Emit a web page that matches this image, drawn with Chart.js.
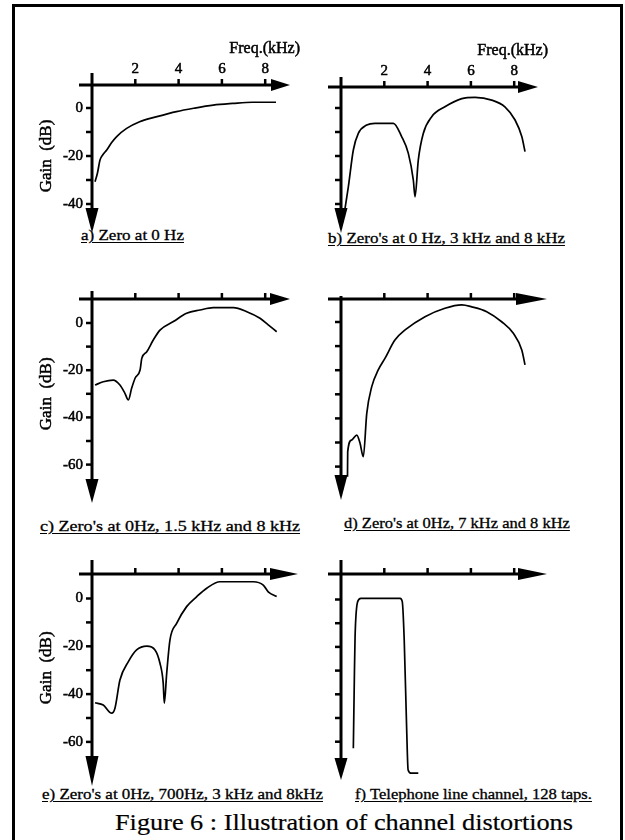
<!DOCTYPE html>
<html>
<head>
<meta charset="utf-8">
<title>Figure 6 : Illustration of channel distortions</title>
<script src="https://cdn.jsdelivr.net/npm/chart.js@4.4.1/dist/chart.umd.min.js"></script>
<style>
  html, body { margin: 0; padding: 0; background: #fff; width: 625px; height: 840px; overflow: hidden; }
  #frame { position: absolute; left: 12px; top: 4px; width: 605px; height: 900px; border: 3px solid #000; border-bottom: none; }
  canvas { position: absolute; }
  .cap {
    position: absolute; white-space: pre; color: #000;
    font-family: "Liberation Serif", "Times New Roman", serif;
    font-size: 15px; line-height: 15px;
    -webkit-text-stroke: 0.3px #000;
    text-decoration: underline; text-underline-offset: 2px;
    transform-origin: 0 0;
  }
  #title { font-size: 24px; line-height: 24px; text-decoration: none; -webkit-text-stroke: 0.2px #000; }
</style>
</head>
<body>
<div id="frame"></div>

<div class="cap" style="left:81px; top:228px" data-w="103">a) Zero at 0 Hz</div>
<div class="cap" style="left:328px; top:231px" data-w="237">b) Zero's at 0 Hz, 3 kHz and 8 kHz</div>
<div class="cap" style="left:40px; top:519px" data-w="260">c) Zero's at 0Hz, 1.5 kHz and 8 kHz</div>
<div class="cap" style="left:344px; top:516px" data-w="226">d) Zero's at 0Hz, 7 kHz and 8 kHz</div>
<div class="cap" style="left:42px; top:787px" data-w="281">e) Zero's at 0Hz, 700Hz, 3 kHz and 8kHz</div>
<div class="cap" style="left:355px; top:787px" data-w="237">f) Telephone line channel, 128 taps.</div>
<div class="cap" id="title" style="left:115px; top:810px" data-w="458">Figure 6 : Illustration of channel distortions</div>

<script>
// ------------------------------------------------------------
// data (frequency in kHz, gain in dB)
// ------------------------------------------------------------
const freqA = [0.14, 0.25, 0.37, 0.5, 0.68, 0.9, 1.14, 1.6, 2.2, 3.0, 3.9, 4.7, 5.6, 6.5, 7.4, 8.5];
const gainA = [-30.7, -27.2, -21.7, -19.5, -17.5, -14.5, -11.9, -8.5, -5.7, -3.6, -1.5, -0.1, 1.2, 1.9, 2.4, 2.4];

const freqB = [0.15, 0.34, 0.57, 0.8, 1.19, 1.57, 2.42, 2.8, 3.11, 3.34, 3.42, 3.57, 3.8, 4.19, 4.8, 5.58, 6.19, 6.96, 7.57, 8.04, 8.35, 8.5];
const gainB = [-43.9, -32.8, -17.5, -10.6, -7.1, -6.4, -6.4, -11.9, -18.9, -30, -37, -21.7, -10.6, -3.6, 0.5, 3.9, 4.4, 3.3, 0.5, -5, -11.9, -18.2];

const freqC = [0.14, 0.52, 0.98, 1.29, 1.52, 1.68, 1.83, 1.99, 2.22, 2.3, 2.53, 2.83, 3.14, 3.76, 4.37, 4.99, 5.6, 6.53, 7.15, 7.76, 8.14, 8.53];
const gainC = [-26.3, -24.9, -24.2, -26.3, -29.8, -32.6, -27.7, -23.4, -19.9, -15, -12.2, -7.2, -3, 0.6, 4.1, 5.5, 6.5, 6.5, 4.8, 2, -0.8, -3.7];

const freqD = [0.3, 0.31, 0.49, 0.73, 0.88, 1.03, 1.19, 1.42, 1.72, 2.03, 2.49, 2.96, 3.88, 4.8, 5.58, 6.04, 6.73, 7.42, 7.96, 8.35, 8.5];
const gainD = [-64.2, -53.8, -49, -46.9, -50.3, -55.9, -37.9, -26.8, -19.9, -15.1, -7.5, -3.3, 2.2, 5.7, 7.1, 6.3, 4.3, 0.1, -4.7, -11.6, -17.8];

const freqE = [0.14, 0.52, 0.91, 1.06, 1.29, 1.68, 2.06, 2.53, 2.91, 3.14, 3.29, 3.34, 3.45, 3.6, 3.91, 4.37, 4.84, 5.3, 5.91, 7.45, 7.91, 8.14, 8.53];
const gainE = [-43.6, -44.6, -48, -45.9, -34.1, -26.4, -21.5, -19.9, -21.5, -27.1, -35.5, -43.8, -31.3, -17.4, -10.4, -3.4, 0.8, 4.3, 7, 7, 5.6, 2.8, 0.8];

const freqF = [0.57, 0.62, 0.65, 0.77, 0.92, 2.73, 2.83, 2.92, 3.03, 3.1, 3.25, 3.57];
const gainF = [-62.8, -31.1, -15.7, -0.9, 0.5, 0.5, -0.9, -17.1, -53.7, -71.9, -73.3, -73.3];

// tick values and their labels
const freqTicks = [2, 4, 6, 8];
const freqTickLabels = ['2', '4', '6', '8'];
const gainLabelTicks = [0, -20, -40, -60];
const gainTickLabels = ['0', '-20', '-40', '-60'];

// ------------------------------------------------------------
// layout of each small plot (page pixels)
// ox/oy: where the axes cross, tipX/tipY: arrow tips,
// zeroY: pixel of 0 dB, pxDB: pixels per dB
// ------------------------------------------------------------
const PX_PER_KHZ = 21.65;
const PAD = { left: 80, top: 80, right: 25, bottom: 10 };

const panels = [
  { freq: freqA, gain: gainA, ox: 92,  oy: 85,  tipX: 290, tipY: 233, zeroY: 108,   pxDB: 2.4,  overY: 12, xHead: 19, yHead: 25, lowTick: -40, xLabels: true,  yLabels: true,  gainAt: -20 },
  { freq: freqB, gain: gainB, ox: 341, oy: 87,  tipX: 538, tipY: 233, zeroY: 108,   pxDB: 2.4,  overY: 10, xHead: 20, yHead: 25, lowTick: -40, xLabels: true,  yLabels: false },
  { freq: freqC, gain: gainC, ox: 92,  oy: 299, tipX: 290, tipY: 503, zeroY: 323,   pxDB: 2.36, overY: 8,  xHead: 20, yHead: 24, lowTick: -60, xLabels: false, yLabels: true,  gainAt: -30 },
  { freq: freqD, gain: gainD, ox: 341, oy: 299, tipX: 547, tipY: 500, zeroY: 322,   pxDB: 2.41, overY: 3,  xHead: 31, yHead: 25, lowTick: -60, xLabels: false, yLabels: false },
  { freq: freqE, gain: gainE, ox: 92,  oy: 574, tipX: 298, tipY: 786, zeroY: 598.5, pxDB: 2.39, overY: 14, xHead: 28, yHead: 30, lowTick: -60, xLabels: false, yLabels: true,  gainAt: -29 },
  { freq: freqF, gain: gainF, ox: 341, oy: 574, tipX: 547, tipY: 780, zeroY: 599.5, pxDB: 2.37, overY: 14, xHead: 29, yHead: 22, lowTick: -60, xLabels: false, yLabels: false }
];

const SERIF = '"Liberation Serif", "Times New Roman", serif';

// text with a thin outline, to get the heavy look of the scan
function heavyText(ctx, txt, x, y) {
  ctx.fillText(txt, x, y);
  ctx.lineWidth = 0.5;
  ctx.strokeText(txt, x, y);
}

// ------------------------------------------------------------
// plugin: arrowed axes, ticks and labels drawn from the scales
// ------------------------------------------------------------
const arrowAxes = {
  id: 'arrowAxes',
  afterDatasetsDraw(chart, args, p) {
    const ctx = chart.ctx;
    const xs = chart.scales.x, ys = chart.scales.y;
    const x0 = xs.getPixelForValue(0);
    const y0 = ys.getPixelForValue(ys.max);
    const xEnd = xs.getPixelForValue(xs.max);
    const yEnd = ys.getPixelForValue(ys.min);

    ctx.save();
    ctx.strokeStyle = '#000';
    ctx.fillStyle = '#000';

    // horizontal axis + arrow
    ctx.lineWidth = 3;
    ctx.beginPath();
    ctx.moveTo(x0 - 13, y0);
    ctx.lineTo(xEnd - p.xHead + 2, y0);
    ctx.stroke();
    ctx.beginPath();
    ctx.moveTo(xEnd, y0);
    ctx.lineTo(xEnd - p.xHead, y0 - 6);
    ctx.lineTo(xEnd - p.xHead, y0 + 6);
    ctx.closePath();
    ctx.fill();

    // vertical axis + arrow
    ctx.beginPath();
    ctx.moveTo(x0, y0 - p.overY);
    ctx.lineTo(x0, yEnd - p.yHead + 2);
    ctx.stroke();
    ctx.beginPath();
    ctx.moveTo(x0, yEnd);
    ctx.lineTo(x0 - 6.5, yEnd - p.yHead);
    ctx.lineTo(x0 + 6.5, yEnd - p.yHead);
    ctx.closePath();
    ctx.fill();

    // frequency ticks (upwards)
    ctx.lineWidth = 2.5;
    freqTicks.forEach(v => {
      const px = xs.getPixelForValue(v);
      if (px > xEnd - p.xHead) return;
      ctx.beginPath();
      ctx.moveTo(px, y0);
      ctx.lineTo(px, y0 - 6);
      ctx.stroke();
    });

    // gain ticks every 10 dB (to the left)
    for (let v = 0; v >= p.lowTick; v -= 10) {
      const py = ys.getPixelForValue(v);
      ctx.beginPath();
      ctx.moveTo(x0 - 6, py);
      ctx.lineTo(x0, py);
      ctx.stroke();
    }

    if (p.xLabels) {
      ctx.font = '15px ' + SERIF;
      ctx.textAlign = 'center';
      ctx.textBaseline = 'alphabetic';
      freqTicks.forEach((v, i) => {
        heavyText(ctx, freqTickLabels[i], xs.getPixelForValue(v), y0 - 12);
      });
      ctx.font = '16px ' + SERIF;
      ctx.textAlign = 'right';
      heavyText(ctx, 'Freq.(kHz)', xEnd + 10, y0 - 32);
    }

    if (p.yLabels) {
      ctx.font = '15px ' + SERIF;
      ctx.textAlign = 'right';
      ctx.textBaseline = 'middle';
      gainLabelTicks.forEach((v, i) => {
        if (v < p.lowTick) return;
        heavyText(ctx, gainTickLabels[i], x0 - 9, ys.getPixelForValue(v));
      });
      ctx.save();
      ctx.translate(x0 - 45, ys.getPixelForValue(p.gainAt));
      ctx.rotate(-Math.PI / 2);
      ctx.font = '17px ' + SERIF;
      ctx.textAlign = 'center';
      ctx.textBaseline = 'middle';
      heavyText(ctx, 'Gain  (dB)', 0, 0);
      ctx.restore();
    }
    ctx.restore();
  }
};

// ------------------------------------------------------------
// build one chart per panel
// ------------------------------------------------------------
function makePanel(p) {
  const canvas = document.createElement('canvas');
  const w = (p.tipX - p.ox) + PAD.left + PAD.right;
  const h = (p.tipY - p.oy) + PAD.top + PAD.bottom;
  canvas.width = w;
  canvas.height = h;
  canvas.style.left = (p.ox - PAD.left) + 'px';
  canvas.style.top = (p.oy - PAD.top) + 'px';
  canvas.style.width = w + 'px';
  canvas.style.height = h + 'px';
  document.body.appendChild(canvas);

  const points = p.freq.map((f, i) => ({ x: f, y: p.gain[i] }));

  new Chart(canvas.getContext('2d'), {
    type: 'line',
    data: {
      datasets: [{
        data: points,
        borderColor: '#000',
        borderWidth: 1.7,
        pointRadius: 0,
        fill: false,
        cubicInterpolationMode: 'monotone'
      }]
    },
    options: {
      responsive: false,
      animation: false,
      events: [],
      devicePixelRatio: 1,
      layout: { padding: PAD },
      plugins: {
        legend: { display: false },
        tooltip: { enabled: false },
        arrowAxes: p
      },
      scales: {
        x: { type: 'linear', display: false, min: 0, max: (p.tipX - p.ox) / PX_PER_KHZ },
        y: { type: 'linear', display: false,
             min: -(p.tipY - p.zeroY) / p.pxDB,
             max: (p.zeroY - p.oy) / p.pxDB }
      }
    },
    plugins: [arrowAxes]
  });
}

panels.forEach(makePanel);

// stretch captions to the widths they have in the scanned figure
document.querySelectorAll('.cap').forEach(el => {
  const target = parseFloat(el.dataset.w);
  const actual = el.getBoundingClientRect().width;
  if (actual > 0) el.style.transform = 'scaleX(' + (target / actual).toFixed(3) + ')';
});
</script>
</body>
</html>
